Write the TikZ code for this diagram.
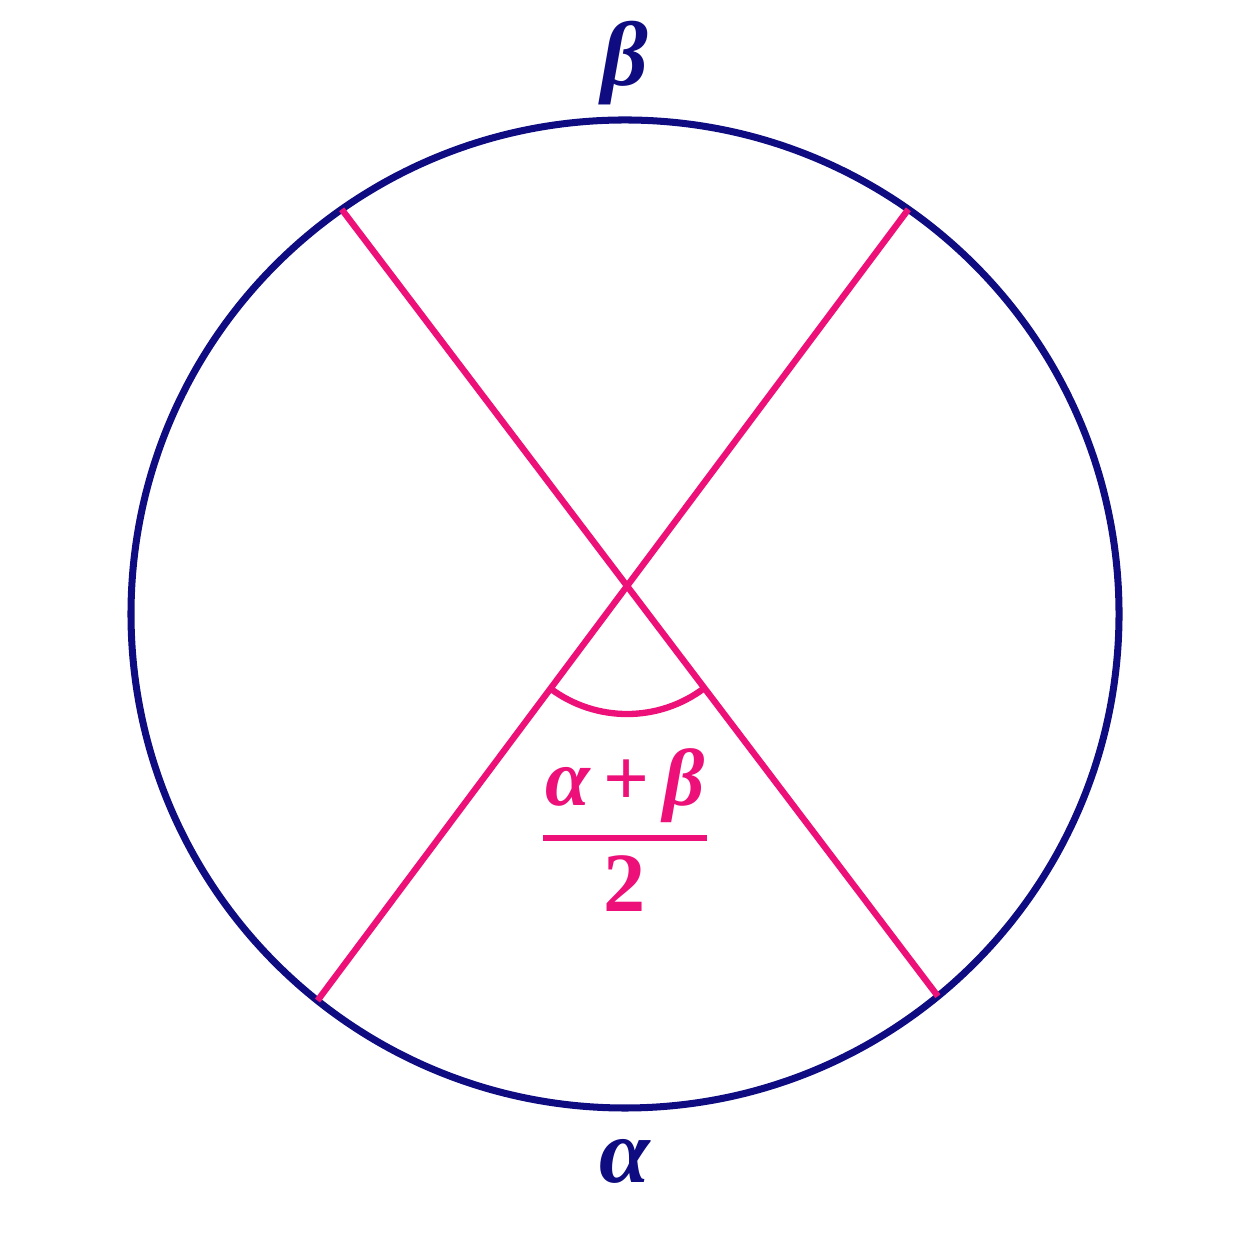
\documentclass[tikz,border=0pt]{standalone}
\usepackage{fontspec}
\setmainfont{Liberation Serif}
\usetikzlibrary{calc}
\definecolor{navy}{RGB}{14,12,128}
\definecolor{hotpink}{RGB}{236,16,120}
\begin{document}
\begin{tikzpicture}[
  circ/.style={draw=navy, line width=2.0pt},
  chord/.style={draw=hotpink, line width=1.8pt},
  lbl/.style={text=navy, inner sep=0pt, font=\fontsize{26}{30}\selectfont\bfseries\itshape},
  flbl/.style={text=hotpink, inner sep=0pt, font=\fontsize{23}{27}\selectfont\bfseries\itshape}
]
\useasboundingbox (0,0) rectangle (12.54,12.54);
\coordinate (c) at (6.25,6.40);
\draw[circ] (c) circle[radius=4.94];
\coordinate (A1) at ($(c)+(125:4.94)$);
\coordinate (B1) at ($(c)+(-50.7:4.94)$);
\coordinate (A2) at ($(c)+(55:4.94)$);
\coordinate (B2) at ($(c)+(-128.5:4.94)$);
\draw[chord] (A1) -- (B1);
\draw[chord] (A2) -- (B2);
\coordinate (X) at (intersection of A1--B1 and A2--B2);
\draw[chord] let \p1=($(B2)-(X)$), \p2=($(B1)-(X)$), \n1={atan2(\y1,\x1)}, \n2={atan2(\y2,\x2)} in
  ($(X)!1.28cm!(B2)$) arc[start angle=\n1, end angle=\n2, radius=1.28];
\node[lbl, anchor=base] (beta) at (6.25,11.68) {β};
\node[lbl, anchor=base] (alpha) at (6.25,0.71) {α};
\node[flbl, anchor=base] (num) at (6.25,4.48) {α\,{\upshape +}\,β};
\coordinate (barL) at (5.43,4.16);
\coordinate (barR) at (7.07,4.16);
\draw[chord] (barL) -- (barR);
\node[flbl, anchor=base, font=\fontsize{24}{28}\selectfont\bfseries] (two) at (6.25,3.42) {2};
\end{tikzpicture}
\end{document}
